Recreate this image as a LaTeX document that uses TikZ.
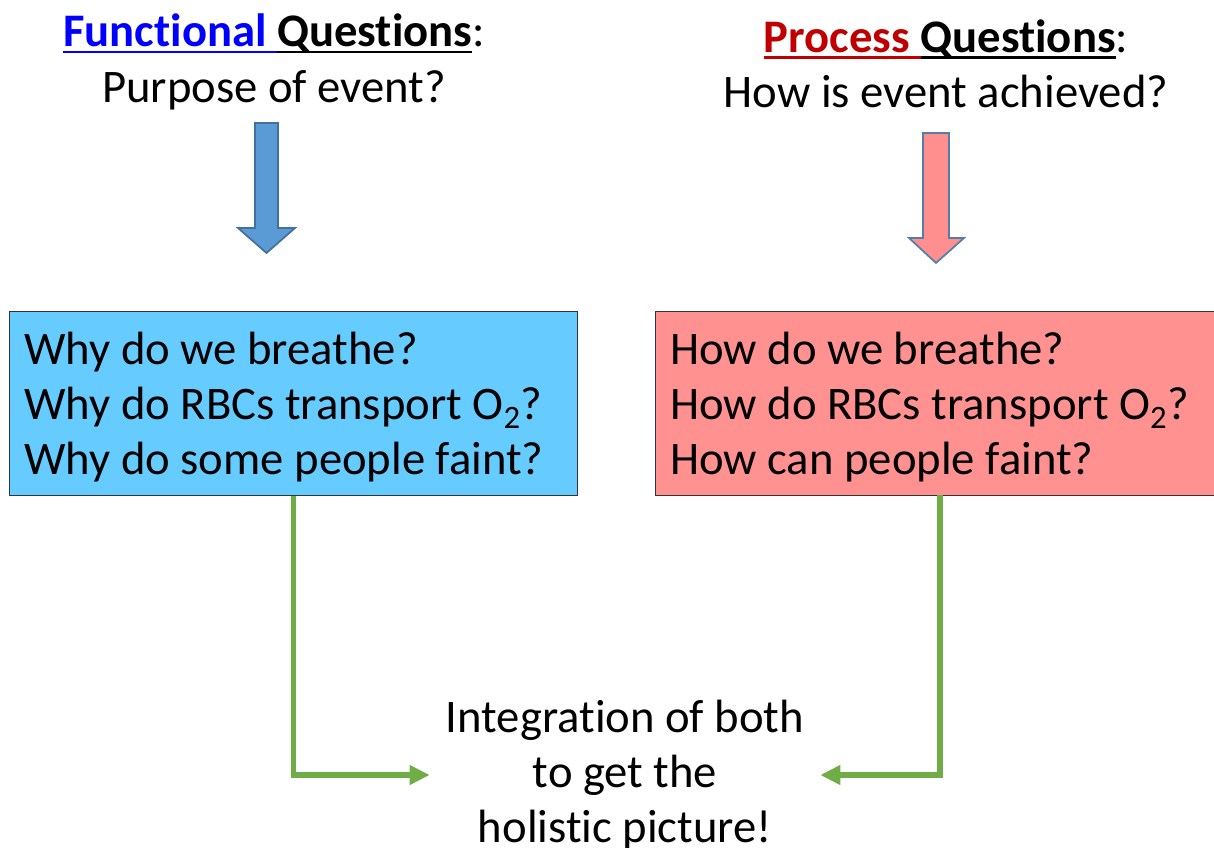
\documentclass[tikz,border=0pt]{standalone}
\usepackage{fontspec}
\setmainfont{Carlito}[Ligatures=NoCommon]
\usetikzlibrary{positioning,arrows.meta}

\definecolor{fnblue}{RGB}{0,0,255}
\definecolor{prred}{RGB}{192,0,0}
\definecolor{boxblue}{RGB}{102,204,255}
\definecolor{boxred}{RGB}{255,145,145}
\definecolor{arrblue}{RGB}{91,155,213}
\definecolor{arrblueline}{RGB}{65,113,156}
\definecolor{arrred}{RGB}{255,143,143}
\definecolor{arrredline}{RGB}{84,126,170}
\definecolor{linkgreen}{RGB}{112,173,71}

% underline a word with a rule in the current colour
\newcommand{\ulword}[1]{\setbox0\hbox{#1}\rlap{\rule[-4.5pt]{\wd0}{1.6pt}}\box0}

\begin{document}
\begin{tikzpicture}[x=0.75pt,y=-0.75pt,
                    titlenode/.style={align=center, font=\fontsize{35}{41.5}\selectfont, inner sep=0pt},
                    qbox/.style={rectangle, draw=black!80, line width=0.8pt, align=left, anchor=north west,
                                 font=\fontsize{35}{41.3}\selectfont, inner xsep=11pt, inner ysep=0pt,
                                 minimum height=138pt},
                    blockarrow/.style={line width=1.3pt, line join=miter},
                    link/.style={draw=linkgreen, line width=3.8pt, -{Triangle[length=15pt,width=14pt]}},
                ]
                    \clip (0,0) rectangle (1214,848);

                    %Titles
                    \node[titlenode](ftitle) at (274,62) {\textbf{\textcolor{fnblue}{\ulword{Functional }}\ulword{Questions}}:\\Purpose of event?};
                    \node[titlenode](ptitle) at (946,64) {\textbf{\textcolor{prred}{\ulword{Process }}\ulword{Questions}}:\\How is event achieved?};

                    %Block arrows
                    \filldraw[blockarrow, fill=arrblue, draw=arrblueline]
                        (255,123) -- (278,123) -- (278,228) -- (295,228) -- (266.5,253) -- (238,228) -- (255,228) -- cycle;
                    \filldraw[blockarrow, fill=arrred, draw=arrredline]
                        (923,133) -- (949,133) -- (949,238) -- (964,238) -- (936,263) -- (909,238) -- (923,238) -- cycle;

                    %Boxes
                    \node[qbox, fill=boxblue, text width=404pt](fbox) at (9,311)
                        {\spaceskip=0pt\rule{0pt}{29pt}Why do we breathe?\\Why do RBCs transport O\textsubscript{2}?\\Why do some people faint?};
                    \node[qbox, fill=boxred, text width=413pt](pbox) at (655,311)
                        {\spaceskip=0pt\rule{0pt}{29pt}How do we breathe?\\How do RBCs transport O\textsubscript{2}?\\How can people faint?};

                    %Result
                    \node[titlenode, inner xsep=12pt](integ) at (625,775) {Integration of both\\to get the\\holistic picture!};

                    %Lines
                    \coordinate (pdrop) at (940,495);
                    \draw[link](fbox.south) |- (integ.west);
                    \draw[link](pdrop) |- (integ.east);
                \end{tikzpicture}
\end{document}
